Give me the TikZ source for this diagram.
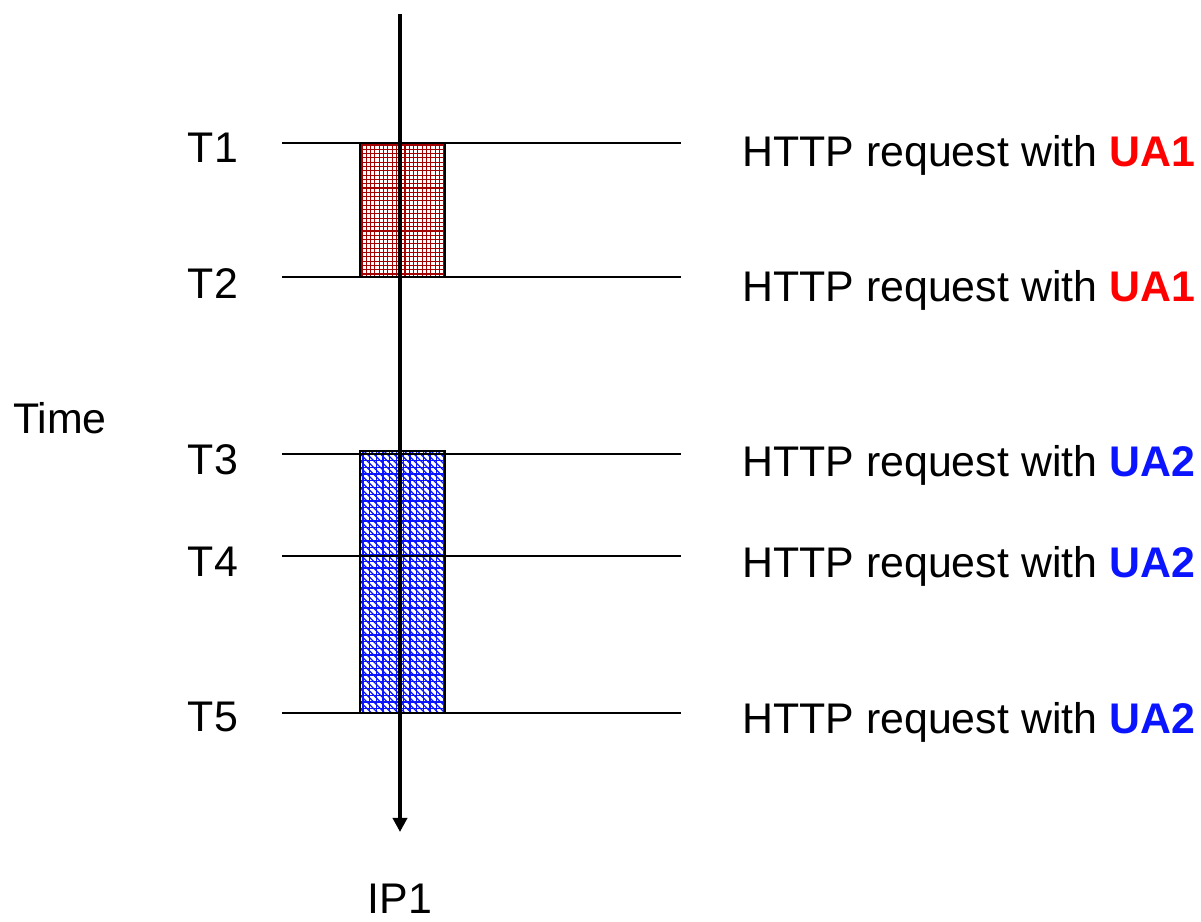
\documentclass[tikz,border=0pt]{standalone}
\usepackage{fontspec}
\setmainfont{Liberation Sans}
\usepackage{tikz}
\usetikzlibrary{arrows.meta}

\definecolor{uared}{RGB}{255,0,0}
\definecolor{uablue}{RGB}{10,20,255}
\definecolor{boxred}{RGB}{165,0,0}

\begin{document}
\begin{tikzpicture}[x=0.02cm,y=-0.02cm,
	every node/.style={font=\fontsize{24.4}{29}\selectfont},
	tick/.style={draw=black, line width=0.85pt},
	session/.style={draw=black, line width=0.9pt},
	redhatch/.style={draw=boxred, line width=0.6pt},
	bluehatch/.style={draw=uablue, line width=0.7pt}]
	\useasboundingbox (0,0) rectangle (1201,922);

	% first session: fine grid
	\begin{scope}
		\clip (360,143) rectangle (445,277);
		\foreach \x in {362,366.3,...,446}
			\draw[redhatch] (\x,143) -- (\x,277);
		\foreach \y in {145,149.3,...,278}
			\draw[redhatch] (360,\y) -- (445,\y);
	\end{scope}
	\draw[session] (360,143) rectangle (445,277);

	% second session: grid with diagonals
	\begin{scope}
		\clip (360,451) rectangle (445,713);
		\foreach \x in {363,369.7,...,446}
			\draw[bluehatch] (\x,451) -- (\x,713);
		\foreach \y in {454,460.7,...,714}
			\draw[bluehatch] (360,\y) -- (445,\y);
		\foreach \x in {96,102.7,...,446}
			\draw[bluehatch] (\x,451) -- (\x+262,713);
	\end{scope}
	\draw[session] (360,451) rectangle (445,713);

	% time axis
	\coordinate (top) at (400,14);
	\coordinate (bottom) at (400,832);
	\draw[line width=2pt, -{Triangle[width=8pt,length=8pt]}] (top) -- (bottom);

	\begin{scope}[every node/.style={font=\fontsize{24.4}{29}\selectfont}]
		\node (t1) at (213,148) {T1};
		\node (t2) at (213,284) {T2};
		\node (t3) at (213,460) {T3};
		\node (t4) at (213,562) {T4};
		\node (t5) at (213,717) {T5};
		\node (time) at (60,418) {Time};
		\node[anchor=south, inner sep=0pt] (ip) at (400,914) {IP1};
	\end{scope}

	\begin{scope}[every node/.style={anchor=west, inner sep=0pt, font=\fontsize{24.4}{29}\selectfont}]
		\node (r1) at (742,155) {HTTP request with \textbf{\color{uared}UA1}};
		\node (r2) at (742,290) {HTTP request with \textbf{\color{uared}UA1}};
		\node (r3) at (742,465) {HTTP request with \textbf{\color{uablue}UA2}};
		\node (r4) at (742,566) {HTTP request with \textbf{\color{uablue}UA2}};
		\node (r5) at (742,722) {HTTP request with \textbf{\color{uablue}UA2}};
	\end{scope}

	% request instants
	\foreach \y/\n in {143/1,277/2,454/3,556/4,713/5} {
		\coordinate (a\n) at (282,\y);
		\coordinate (b\n) at (681,\y);
		\draw[tick] (a\n) -- (b\n);
	}
\end{tikzpicture}
\end{document}
